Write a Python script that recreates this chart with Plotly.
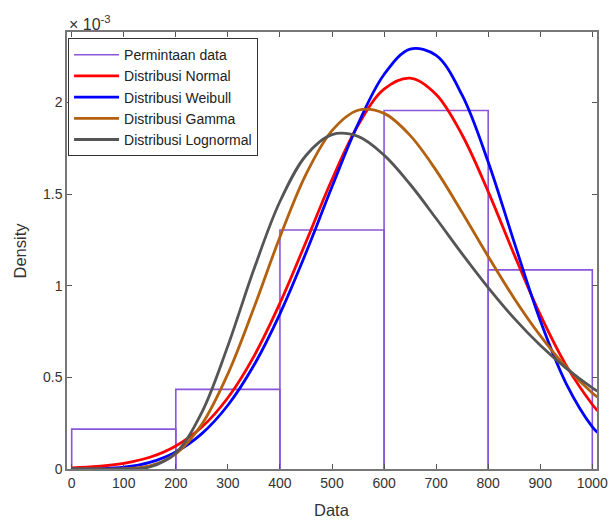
import plotly.graph_objs as go

# histogram of demand data (counts per 200-wide bin)
bin_edges = [0, 200, 400, 600, 800, 1000]
bin_counts = [1, 2, 6, 9, 5]

# fitted densities (units of 1e-3)
x_fit = [0, 50, 100, 150, 200, 250, 300, 350, 400, 450, 500,
         550, 600, 650, 700, 750, 800, 850, 900, 950, 1000, 1010]
y_normal = [0.006, 0.014, 0.031, 0.064, 0.126, 0.229, 0.389, 0.615, 0.905, 1.239, 1.580,
            1.876, 2.073, 2.133, 2.044, 1.823, 1.514, 1.170, 0.842, 0.564, 0.352, 0.318]
y_weibull = [0.0, 0.001, 0.0095, 0.036, 0.093, 0.193, 0.348, 0.566, 0.847, 1.180, 1.540,
             1.883, 2.153, 2.292, 2.257, 2.040, 1.676, 1.237, 0.810, 0.465, 0.230, 0.200]
y_gamma = [0.0, 0.0, 0.0013, 0.017, 0.083, 0.244, 0.519, 0.880, 1.266, 1.608, 1.847,
           1.958, 1.941, 1.821, 1.630, 1.400, 1.160, 0.931, 0.728, 0.555, 0.415, 0.392]
y_lognormal = [0.0, 0.0, 0.0002, 0.011, 0.088, 0.309, 0.672, 1.090, 1.460, 1.711, 1.825,
               1.815, 1.713, 1.554, 1.367, 1.174, 0.990, 0.822, 0.675, 0.549, 0.443, 0.425]

n_total = sum(bin_counts)
hx, hy = [], []
for i, c in enumerate(bin_counts):
    dens = c / (n_total * (bin_edges[i + 1] - bin_edges[i]))
    hx += [bin_edges[i], bin_edges[i], bin_edges[i + 1], bin_edges[i + 1], None]
    hy += [0, dens, dens, 0, None]

scale = 1e-3
font = "Arial, Liberation Sans, sans-serif"

fig = go.Figure()
fig.add_trace(go.Scatter(x=hx, y=hy, mode='lines', name='Permintaan data',
                         line=dict(color='#8A55D8', width=1.6)))

curves = [('Distribusi Normal', y_normal, '#FF0000'),
          ('Distribusi Weibull', y_weibull, '#0000FF'),
          ('Distribusi Gamma', y_gamma, '#B3600F'),
          ('Distribusi Lognormal', y_lognormal, '#555555')]
for name, ys, col in curves:
    fig.add_trace(go.Scatter(x=x_fit, y=[v * scale for v in ys], mode='lines', name=name,
                             line=dict(color=col, width=2.8, shape='spline', smoothing=1.0)))

fig.update_layout(
    width=610, height=522,
    margin=dict(l=67, r=13, t=32, b=53),
    paper_bgcolor='white', plot_bgcolor='white',
    font=dict(family=font, size=14, color='#333333'),
    legend=dict(x=0.002, y=0.986, xanchor='left', yanchor='top',
                bordercolor='#333333', borderwidth=1, bgcolor='white',
                font=dict(family=font, size=14, color='#222222'),
                itemwidth=45, tracegroupgap=0),
    annotations=[
        dict(x=0, y=1, xref='paper', yref='paper', xanchor='left', yanchor='bottom',
             text='× 10<sup>-3</sup>', showarrow=False,
             font=dict(family=font, size=16, color='#333333'), yshift=-3),
        dict(x=0.5, y=0, xref='paper', yref='paper', xanchor='center', yanchor='middle',
             text='Data', showarrow=False, yshift=-41,
             font=dict(family=font, size=16.5, color='#333333')),
        dict(x=0, y=0.5, xref='paper', yref='paper', xanchor='center', yanchor='middle',
             text='Density', showarrow=False, xshift=-48, textangle=-90,
             font=dict(family=font, size=16.5, color='#333333')),
    ],
)
fig.update_xaxes(range=[-9, 1009], tickvals=list(range(0, 1001, 100)),
                 ticks='inside', ticklen=5, tickcolor='#555555', mirror='ticks',
                 showline=True, linecolor='#777777', linewidth=1.5, showgrid=False,
                 zeroline=False, automargin=False)
fig.update_yaxes(range=[0, 2.385e-3], tickvals=[0, 0.5e-3, 1e-3, 1.5e-3, 2e-3],
                 ticktext=['0', '0.5', '1', '1.5', '2'],
                 ticks='inside', ticklen=5, tickcolor='#555555', mirror='ticks',
                 showline=True, linecolor='#777777', linewidth=1.5, showgrid=False,
                 zeroline=False, automargin=False)

# page body has an 8px default margin; drop it so the figure fills the window
fig.write_html("out.html", config={'displayModeBar': False},
               post_script="document.body.style.margin='0px';")
